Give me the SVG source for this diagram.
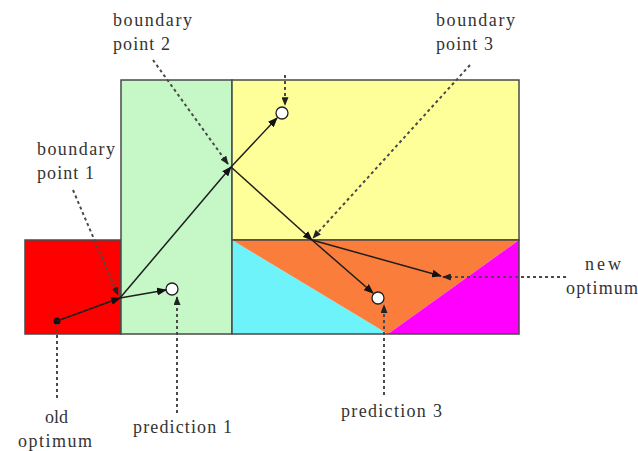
<svg xmlns="http://www.w3.org/2000/svg" width="638" height="451" viewBox="0 0 638 451">
<defs>
<style>
.region{stroke:#4a4a4a;stroke-width:1.5}
.solid{fill:none;stroke:#1e1e1e;stroke-width:1.5}
.dash{fill:none;stroke:#4a4a4a;stroke-width:2;stroke-dasharray:3 3}
.pt{fill:#fff;stroke:#222;stroke-width:1.3}
text{font-size:18px;fill:#333}
</style>
<marker id="ah" viewBox="0 0 10 8" refX="9" refY="4" markerWidth="10" markerHeight="8" markerUnits="userSpaceOnUse" orient="auto">
<path d="M0,0 L10,4 L0,8 z" fill="#111"/>
</marker>
<marker id="ahd" viewBox="0 0 10 8" refX="9" refY="4" markerWidth="9" markerHeight="7" markerUnits="userSpaceOnUse" orient="auto">
<path d="M0,0 L10,4 L0,8 z" fill="#222"/>
</marker>
</defs>
<rect width="638" height="451" fill="#fff"/>
<g id="regions">
<g id="red-region"><rect class="region" x="25" y="240" width="96" height="94" fill="#ff0000"/></g>
<g id="green-region"><rect class="region" x="121" y="80" width="111" height="254" fill="#c6f7c6"/></g>
<g id="yellow-region"><rect class="region" x="232" y="80" width="287" height="160" fill="#ffff99"/></g>
<g id="cyan-region"><polygon points="232,240 388,334 232,334" fill="#6ff3fb"/></g>
<g id="orange-region"><polygon points="232,240 519,240 388,334" fill="#fb7d3c"/></g>
<g id="magenta-region"><polygon points="519,240 519,334 388,334" fill="#ff00ff"/></g>
<g id="lower-border"><rect x="232" y="240" width="287" height="94" fill="none" stroke="#4a4a4a" stroke-width="1.5"/></g>
</g>
<g id="points">
<g id="prediction1-pt"><circle class="pt" cx="172" cy="289" r="6"/></g>
<g id="prediction2-pt"><circle class="pt" cx="282" cy="113" r="6"/></g>
<g id="prediction3-pt"><circle class="pt" cx="378" cy="298" r="6"/></g>
<g id="old-optimum-pt"><circle cx="57" cy="321" r="3.5" fill="#111"/></g>
</g>
<g id="connectors">
<line class="solid" x1="57" y1="321" x2="120" y2="298" marker-end="url(#ah)"/>
<line class="solid" x1="120" y1="298" x2="166" y2="290" marker-end="url(#ah)"/>
<line class="solid" x1="120" y1="298" x2="231" y2="167" marker-end="url(#ah)"/>
<line class="solid" x1="231" y1="167" x2="277" y2="118" marker-end="url(#ah)"/>
<line class="solid" x1="231" y1="167" x2="312" y2="240" marker-end="url(#ah)"/>
<line class="solid" x1="312" y1="240" x2="441" y2="276" marker-end="url(#ah)"/>
<line class="solid" x1="312" y1="240" x2="373" y2="293" marker-end="url(#ah)"/>
<line class="dash" x1="73" y1="190" x2="118" y2="295" marker-end="url(#ahd)"/>
<line class="dash" x1="153" y1="60" x2="228" y2="164" marker-end="url(#ahd)"/>
<line class="dash" x1="470" y1="65" x2="313" y2="238" marker-end="url(#ahd)"/>
<line class="dash" x1="285" y1="75" x2="285" y2="105" marker-end="url(#ahd)"/>
<line class="dash" x1="177" y1="413" x2="177" y2="297" marker-end="url(#ahd)"/>
<line class="dash" x1="57" y1="398" x2="57" y2="324"/>
<line class="dash" x1="384" y1="395" x2="384" y2="305" marker-end="url(#ahd)"/>
<line class="dash" x1="566" y1="277" x2="443" y2="277" marker-end="url(#ahd)"/>
</g>
<g id="labels" font-family="'Liberation Serif', 'DejaVu Serif', 'Times New Roman', serif">
<g id="label-bp1"><text x="37" y="155" textLength="78" lengthAdjust="spacing">boundary</text><text x="37" y="179" textLength="57" lengthAdjust="spacing">point 1</text></g>
<g id="label-bp2"><text x="113" y="26" textLength="79" lengthAdjust="spacing">boundary</text><text x="113" y="50" textLength="57" lengthAdjust="spacing">point 2</text></g>
<g id="label-bp3"><text x="436" y="26" textLength="79" lengthAdjust="spacing">boundary</text><text x="436" y="50" textLength="57" lengthAdjust="spacing">point 3</text></g>
<g id="label-old"><text x="45" y="423" textLength="23" lengthAdjust="spacing">old</text><text x="18" y="447" textLength="74" lengthAdjust="spacing">optimum</text></g>
<g id="label-pred1"><text x="133" y="433" textLength="99" lengthAdjust="spacing">prediction 1</text></g>
<g id="label-pred3"><text x="341" y="417" textLength="101" lengthAdjust="spacing">prediction 3</text></g>
<g id="label-new"><text x="585" y="270" textLength="36" lengthAdjust="spacing">new</text><text x="566" y="294" textLength="72" lengthAdjust="spacing">optimum</text></g>
</g>
</svg>
